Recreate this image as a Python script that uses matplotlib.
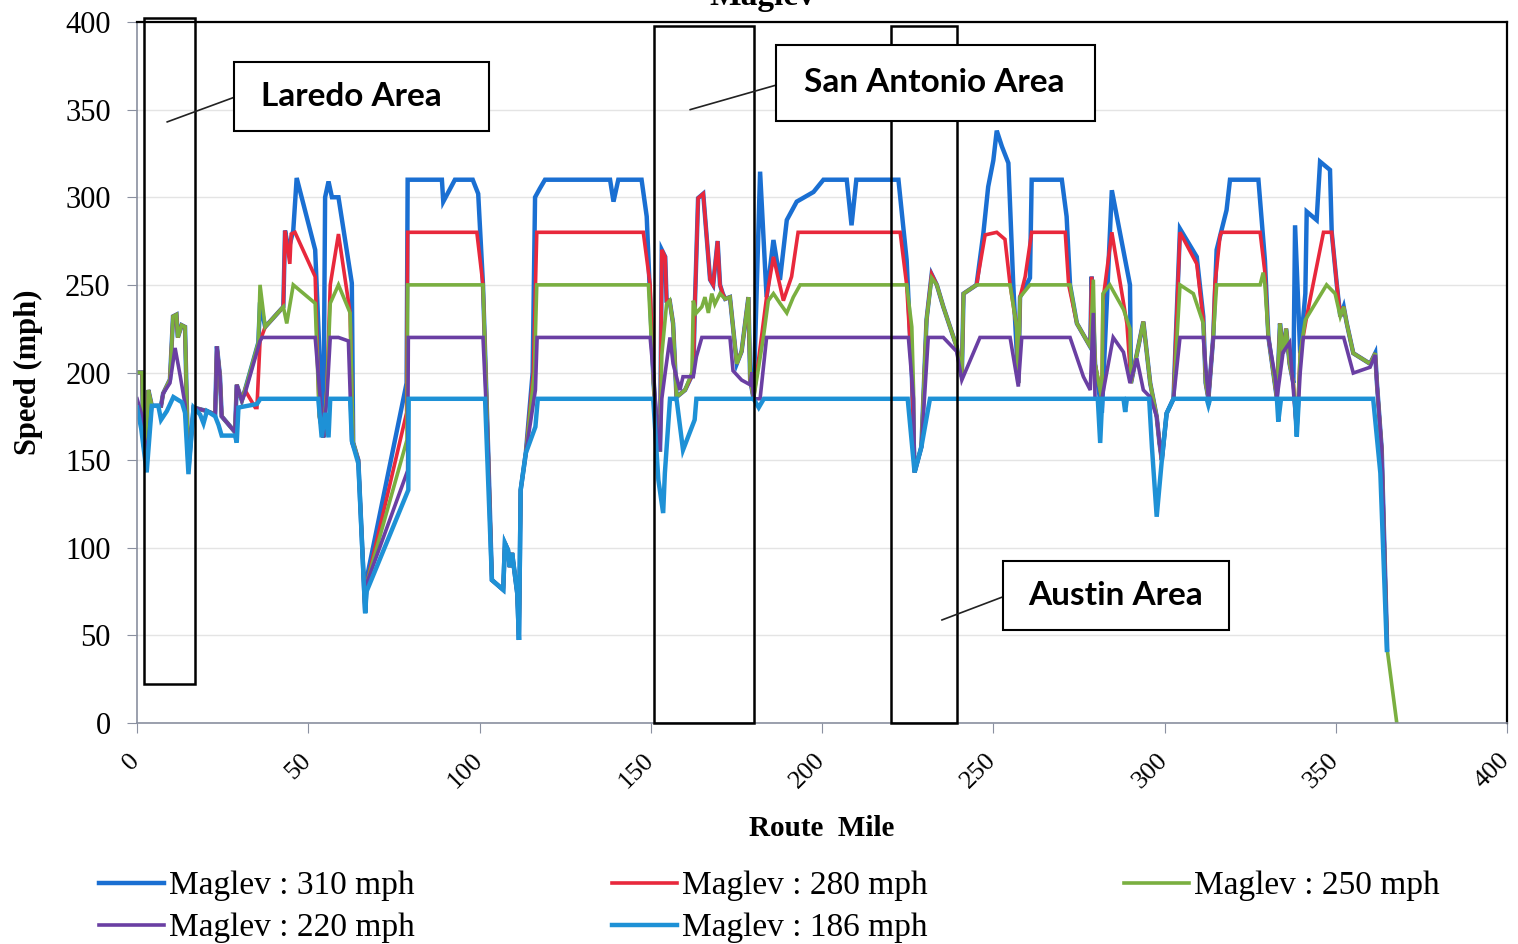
import matplotlib
matplotlib.use("Agg")
import matplotlib.pyplot as plt
import matplotlib.transforms as mtransforms
from matplotlib.patches import Rectangle

# route mile / speed (mph) points
seg_start = [(0, 200), (1.5, 200), (1.8, 160), (2.8, 150), (3.3, 190), (4.3, 181), (7, 181),
             (7.6, 188), (9.6, 196), (10.5, 232), (11.5, 233), (11.9, 220), (13, 227), (14, 226),
             (14.5, 183), (15, 145), (16.5, 180), (20.4, 178), (22.8, 176), (23.3, 215),
             (24.2, 198), (24.7, 175), (28.6, 166), (29.1, 193), (30.6, 184), (31.5, 190)]
seg_low = [(103.6, 81.6), (106.9, 76), (107.4, 102.6), (108.3, 98.7), (108.8, 89), (109.5, 97),
           (111, 74), (111.5, 47.4), (112, 133), (113.5, 154)]
seg_sa = [(152.2, 156), (152.7, 156), (153.2, 270), (154.2, 266), (154.6, 241), (155.5, 241),
          (156.5, 228), (157.5, 186), (160, 190), (162.4, 200), (162.9, 241), (163.8, 299.5),
          (165.3, 302), (167.3, 253), (168.2, 250), (169.5, 275), (170.2, 250), (171, 245),
          (171.7, 242), (173.1, 243), (175.1, 205), (176.5, 212), (178.5, 243), (179, 196), (180, 185)]
seg_end = [(297.7, 174.8), (298.5, 160), (299.2, 150), (300.6, 176.7), (302.6, 185)]
seg_tail = [(332.8, 185), (333.7, 228), (334.6, 211), (335.5, 225), (336.5, 205), (337.6, 194)]
seg_stop = [(355.1, 211), (360, 205), (361.5, 211), (362, 194), (363.4, 156), (365, 42)]

s310 = seg_start + [
    (35.4, 217), (35.9, 240), (37.4, 226), (42.7, 237.5), (43.2, 281), (44.2, 270), (45.6, 281),
    (46.6, 311), (52, 270), (53.9, 180), (54.4, 163), (54.9, 300), (55.9, 309), (56.9, 300),
    (58.8, 300), (62.7, 251), (63.1, 160), (64.6, 150), (66.6, 63), (67.1, 83), (78.7, 194),
    (79, 310), (89, 310), (89.4, 297.5), (92.8, 310), (98, 310), (99.6, 302), (101, 250),
    (102.5, 156)] + seg_low + [
    (115.5, 200), (116.2, 300), (117.6, 305), (119.1, 310), (138.1, 310), (139.1, 297.5),
    (140.5, 310), (147.3, 310), (148.8, 289), (150.8, 194)] + seg_sa + [
    (181.9, 314.6), (183.8, 243), (185.8, 275.6), (187.7, 252.8), (189.7, 287), (192.6, 297.5),
    (197.5, 303), (200.4, 310), (207.2, 310), (208.6, 284), (210, 310), (222.3, 310),
    (224.7, 264), (226.2, 200), (227, 143), (229, 157.6), (230.5, 230), (232, 256), (233.5, 250),
    (235.4, 237.5), (239.3, 214.7), (240.8, 197.6), (241.3, 245), (245.1, 250), (247.1, 279.6),
    (248.5, 306), (250, 321), (251, 338), (252.5, 329), (254.4, 319.5), (255.8, 251),
    (257.3, 194), (257.8, 243), (260.7, 254), (261.2, 310), (270, 310), (271.4, 289),
    (272.4, 250), (274.4, 228), (278.3, 214.7), (278.7, 254.7), (279.7, 205), (281.7, 177),
    (284.6, 304), (289.9, 250), (290.2, 194), (293.8, 229), (295.8, 194)] + seg_end + [
    (304.5, 282), (309.4, 266), (311.3, 232), (312, 194), (312.8, 185), (314.2, 220),
    (315.2, 270), (318.1, 292.7), (319.1, 310), (327.4, 310), (329.3, 264),
    (330.3, 220.5)] + seg_tail + [
    (338.1, 284), (339.6, 211), (341.1, 245), (341.5, 291.8), (344.4, 287), (345.4, 320.3),
    (348.3, 315.6), (348.8, 280), (350.3, 250), (351.3, 232), (352.3, 237.5),
    (353.2, 228)] + seg_stop

s280 = seg_start + [
    (34.5, 180), (35, 180), (35.9, 218), (37.4, 226), (42.7, 237.5), (43.2, 281), (44.6, 262),
    (45, 279), (46.1, 280), (52, 254.7), (53.2, 175), (54.4, 163), (55.4, 190), (56.4, 250),
    (58.8, 279), (62.2, 234), (62.7, 190), (63.1, 160), (64.6, 150), (66.6, 63), (67.1, 80),
    (78.7, 177), (79, 280), (99.2, 280), (101, 250), (102.5, 156)] + seg_low + [
    (115.7, 200), (116.7, 280), (147.8, 280), (149.8, 250), (150.8, 194)] + seg_sa + [
    (183.8, 243), (185.8, 266), (188.7, 241), (191.1, 254.7), (193, 280), (222.8, 280),
    (224.7, 250), (226.2, 200), (227, 143), (229, 157.6), (230.5, 230), (232, 256), (233.5, 250),
    (235.4, 237.5), (239.3, 214.7), (240.8, 197.6), (241.3, 245), (245.1, 250), (247.6, 278.5),
    (251, 280), (253.4, 276), (254.9, 250), (256.8, 226), (257.3, 194), (257.8, 243),
    (259.3, 254.7), (261.2, 280), (271, 280), (272, 250), (274.4, 228), (278.3, 214.7),
    (278.7, 254.7), (279.7, 205), (281.7, 185), (282, 241), (284.6, 280), (289, 228),
    (290.2, 194), (293.8, 229), (295.8, 194)] + seg_end + [
    (304.5, 280), (309.4, 262), (311.3, 230), (312, 194), (312.8, 185), (314.2, 220),
    (314.7, 250), (316.2, 278), (316.6, 280), (327.9, 280), (329.3, 257),
    (330.3, 220.5)] + seg_tail + [
    (338.6, 165), (339.6, 211), (341.5, 232), (346.4, 280), (348.8, 280), (350.3, 250),
    (351.3, 232), (352.3, 237.5), (353.2, 228)] + seg_stop

s250 = seg_start + [
    (35.4, 217), (35.9, 250), (37.4, 226), (42.7, 237.5), (43.7, 228), (45.6, 250),
    (52, 239.5), (53.2, 175), (54.4, 163), (55.4, 190), (56.4, 239.5), (58.8, 250), (62.2, 234),
    (62.7, 190), (63.1, 160), (64.6, 150), (66.6, 63), (67.1, 80), (78.8, 161.5), (79, 250),
    (101, 250), (102.5, 156)] + seg_low + [
    (116, 200), (116.7, 250), (149.3, 250), (150.8, 194), (152.2, 156), (152.7, 156),
    (153.2, 210), (153.8, 222.5), (154.6, 239), (155.5, 241), (156.5, 228), (157.5, 186),
    (160, 190), (162, 200), (162.4, 241), (163.3, 234), (164.9, 237.5), (165.8, 243),
    (166.8, 234), (167.8, 245), (168.7, 239), (170.2, 245), (171.7, 242), (173.1, 243),
    (175.1, 205), (176.5, 212), (178.5, 243), (179, 196), (180, 185), (182.9, 220.5),
    (184.3, 241), (185.8, 245), (187.7, 239.5), (189.7, 234), (191.6, 243), (193.6, 250),
    (224.7, 250), (226.2, 226), (226.7, 190), (227, 143), (229, 157.6), (230.5, 230),
    (232, 254), (233.5, 250), (235.4, 237.5), (239.3, 214.7), (240.8, 197.6), (241.3, 245),
    (245.1, 250), (254.9, 250), (256.8, 226), (257.3, 194), (257.8, 243), (260.7, 250),
    (272.4, 250), (274.4, 228), (278.3, 214.7), (279.2, 253), (279.7, 205), (281.7, 185),
    (282, 245), (284, 250), (288, 236), (289.9, 225), (290.2, 194), (293.8, 229),
    (295.8, 194)] + seg_end + [
    (304.5, 250), (308.4, 245), (311.3, 228), (312, 194), (312.8, 185), (314.2, 220),
    (315.2, 250), (327.9, 250), (328.8, 257), (329.3, 250), (330.3, 220.5)] + seg_tail + [
    (338.6, 165), (339.6, 211), (341.1, 230), (347.3, 250), (349.8, 245), (351.3, 232),
    (352.3, 237.5), (353.2, 228)] + seg_stop + [(367.8, 0)]

s220 = [
    (0, 185), (1.5, 175), (2.8, 150), (4.3, 181), (7, 181), (7.6, 188), (9.6, 194), (11.1, 214),
    (12.6, 198), (14, 182), (15, 145), (16.5, 180), (20.4, 178), (22.8, 176), (23.3, 215),
    (24.2, 198), (24.7, 175), (28.6, 166), (29.1, 193), (30.6, 184), (31.5, 188), (35.9, 218),
    (36.5, 220), (52, 220), (53.9, 175), (54.4, 163), (55.4, 185), (56.4, 220), (58.8, 220),
    (61.7, 218), (62.7, 160), (64.6, 150), (66.6, 63), (67.1, 80), (79, 144), (79.2, 220),
    (101, 220), (102.5, 156)] + seg_low + [
    (116.3, 190), (116.8, 220), (149.8, 220), (151, 194), (152.2, 156), (152.7, 156),
    (153.2, 185), (154.2, 200), (155.6, 220), (156.5, 205), (158.5, 190), (159.4, 197.6),
    (162.4, 197.6), (163.3, 209), (164.9, 220), (173.1, 220), (174, 201), (176.5, 195.7),
    (179, 193), (179.5, 200), (180, 185), (181.9, 185), (183.8, 220), (225.2, 220),
    (226.7, 185), (227, 143), (229, 157.6), (231, 220), (235.4, 220), (239.3, 212),
    (240.8, 195.7), (246.1, 220), (254.9, 220), (257.3, 192), (258.3, 220), (272.4, 220),
    (276.3, 197.6), (278.3, 190), (279.2, 234), (279.7, 185), (281.7, 185), (285, 220),
    (288, 211.6), (289.9, 194), (291.9, 208), (293.8, 190), (295.8, 186)] + seg_end + [
    (304.5, 220), (311.3, 220), (312.8, 185), (314.2, 220), (330.3, 220), (332.3, 197.6),
    (332.8, 185), (334.6, 211.6), (336.5, 217), (337.6, 190), (338.6, 165), (339.6, 200),
    (340.5, 220), (352.3, 220), (355.1, 199.7), (360, 203), (361.5, 210), (362, 194),
    (363.4, 156), (365, 42)]

s186 = [
    (0, 180), (1.2, 168), (2.8, 143), (4.3, 181), (6.2, 181), (7.0, 173), (8.7, 178),
    (10.6, 186), (13.1, 183), (14.0, 177), (15.0, 142), (16.5, 180), (18.4, 176), (19.4, 171),
    (20.4, 178), (22.8, 175), (23.8, 170), (24.7, 164), (28.6, 164), (29.1, 160), (29.6, 180),
    (35, 182), (36, 185), (52.9, 185), (53.9, 163), (54.9, 177), (55.9, 163), (56.4, 185),
    (62.2, 185), (62.7, 161), (64.6, 148), (66.6, 62.6), (67, 75), (79.2, 133), (79.3, 185),
    (101.6, 185)] + seg_low + [
    (116.3, 169), (117, 185), (150.7, 185), (152.2, 138.7), (153.6, 119.8), (154.1, 142.6),
    (155.6, 185), (157.5, 185), (159.4, 155.8), (162.8, 173), (163.3, 185), (180, 185),
    (181.5, 180), (183, 185), (225, 185), (227, 143), (229, 157.6), (231.5, 185), (280.5, 185),
    (281.2, 159.8), (281.8, 185), (288, 185), (288.5, 177.5), (289, 185), (295.5, 185),
    (296.3, 157.7), (297.7, 117.7), (299.2, 150), (300.6, 176.7), (302.6, 185), (312.3, 185),
    (312.8, 181.4), (313.3, 185), (332.8, 185), (333.2, 172), (334, 185), (338, 185),
    (338.6, 163.4), (339.2, 185), (360.9, 185), (363, 142.6), (364.9, 41.7)]

series = [("Maglev : 310 mph", s310, "#1a6fd2", 3.2),
          ("Maglev : 280 mph", s280, "#e8283c", 2.6),
          ("Maglev : 250 mph", s250, "#7aaf40", 2.6),
          ("Maglev : 220 mph", s220, "#6a3fa3", 2.6),
          ("Maglev : 186 mph", s186, "#1e91d6", 3.2)]

# area boxes: (x0, x1, y0, y1) in route mile / mph
areas = [(2, 17, 22, 402.5), (151, 180, 0, 397.5), (220, 239.5, 0, 397.5)]
# text boxes: label, box (x0, x1, y0, y1), text x, leader line start and end
labels = [("Laredo Area", (28.3, 102.8, 338, 377), 62.5, (8.8, 343), (28.3, 357)),
          ("San Antonio Area", (186.6, 279.7, 343.5, 387), 232.7, (161.5, 350), (186.6, 364)),
          ("Austin Area", (252.8, 318.8, 53, 92.4), 285.8, (235, 58.8), (252.8, 72))]

serif = "Liberation Serif"

fig = plt.figure(figsize=(15.18, 9.44), dpi=100)
ax = fig.add_axes([0.0903, 0.2341, 0.9025, 0.7426])

handles = {}
for name, pts, col, lw in series:
    xs = [p[0] for p in pts]
    ys = [p[1] for p in pts]
    handles[name], = ax.plot(xs, ys, color=col, lw=lw, label=name, solid_joinstyle="miter")

for x0, x1, y0, y1 in areas:
    ax.add_patch(Rectangle((x0, y0), x1 - x0, y1 - y0, fill=False, ec="black", lw=1.8,
                           zorder=5, clip_on=False))

for txt, (x0, x1, y0, y1), tx, p0, p1 in labels:
    ax.plot([p0[0], p1[0]], [p0[1], p1[1]], color="#222222", lw=1.2, zorder=5)
    ax.add_patch(Rectangle((x0, y0), x1 - x0, y1 - y0, fc="white", ec="black", lw=1.5, zorder=6))
    ax.text(tx, (y0 + y1) / 2, txt, ha="center", va="center", fontsize=24,
            fontweight="bold", family="Lato", zorder=7)

ax.set_xlim(0, 400)
ax.set_ylim(0, 400)
ax.set_xticks(range(0, 401, 50))
ax.set_yticks(range(0, 401, 50))
ax.grid(axis="y", color="#e4e4e4", lw=1)
ax.set_axisbelow(True)
ax.tick_params(axis="both", length=7, color="#8a90a0", direction="out")
ax.tick_params(axis="x", labelsize=19, pad=12)
ax.tick_params(axis="y", labelsize=22, pad=12)
shift = mtransforms.ScaledTranslation(-6 / 72, 0, fig.dpi_scale_trans)
for lab in ax.get_xticklabels():
    lab.set_rotation(45)
    lab.set_ha("right")
    lab.set_va("top")
    lab.set_rotation_mode("anchor")
    lab.set_transform(lab.get_transform() + shift)
for lab in ax.get_xticklabels() + ax.get_yticklabels():
    lab.set_family(serif)
for side in ("left", "bottom"):
    ax.spines[side].set_color("#8a90a0")
    ax.spines[side].set_linewidth(1.2)
for side in ("top", "right"):
    ax.spines[side].set_color("black")
    ax.spines[side].set_linewidth(1.6)

ax.set_xlabel("Route  Mile", family=serif, fontweight="bold", fontsize=21, labelpad=16)
ax.set_ylabel("Speed (mph)", family=serif, fontweight="bold", fontsize=22, labelpad=16)

fig.text(0.502, 0.9945, "Maglev", ha="center", va="baseline", family=serif,
         fontweight="bold", fontsize=24)

order = ["Maglev : 310 mph", "Maglev : 220 mph", "Maglev : 280 mph",
         "Maglev : 186 mph", "Maglev : 250 mph"]
fig.legend([handles[k] for k in order], order, ncol=3, frameon=False,
           loc="upper left", bbox_to_anchor=(0.0567, 0.0916), prop={"family": serif, "size": 24},
           handlelength=1.95, handletextpad=0.15, columnspacing=5.9, labelspacing=0.34,
           borderaxespad=0)

fig.savefig("out.png", dpi=100)
